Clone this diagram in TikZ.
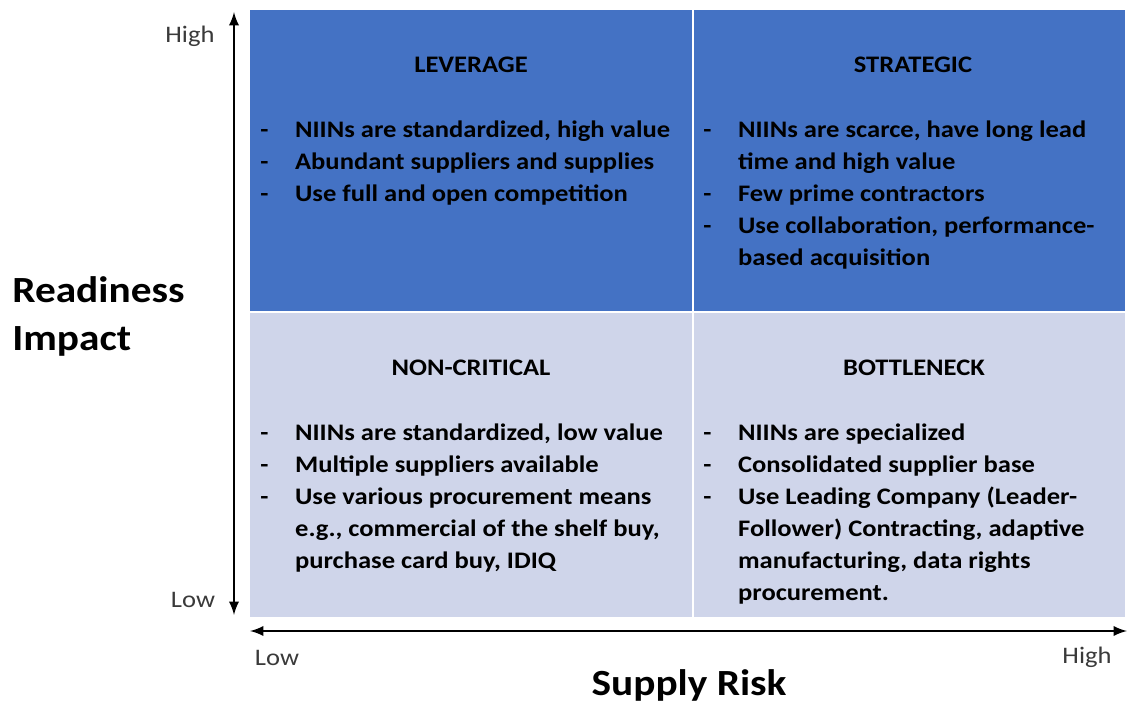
\documentclass[tikz,border=0pt]{standalone}
\usepackage{fontspec}
\setmainfont{Carlito}[FakeStretch=1.12]
\usepackage{tikz}
\usepackage{array}
\definecolor{darkquad}{HTML}{4472C4}
\definecolor{lightquad}{HTML}{CFD5EA}
\definecolor{axisgray}{HTML}{3A3A3A}
\tikzstyle{quad} = [rectangle, anchor=north west, inner sep=0pt]
\tikzstyle{title} = [anchor=base, font=\bfseries\fontsize{13.5}{16}\selectfont]
\tikzstyle{items} = [anchor=base west, inner sep=0pt, font=\bfseries\fontsize{13.5}{18.1}\selectfont]
\tikzstyle{tick} = [text=axisgray, font=\fontsize{13.5}{16}\selectfont]
\tikzstyle{axis} = [font=\bfseries\fontsize{21}{27.2}\selectfont]
\newenvironment{dashlist}{\begin{tabular}[t]{@{}p{19.8pt}@{}l@{}}}{\end{tabular}}

\begin{document}
\begin{tikzpicture}[x=0.02cm, y=-0.02cm]
\useasboundingbox (0,0) rectangle (1127,702);

\node[quad, fill=darkquad, minimum width=8.84cm, minimum height=6.02cm] (lev) at (250, 10) {};
\node[quad, fill=darkquad, minimum width=8.62cm, minimum height=6.02cm] (strat) at (694, 10) {};
\node[quad, fill=lightquad, minimum width=8.84cm, minimum height=6.08cm] (noncrit) at (250, 313) {};
\node[quad, fill=lightquad, minimum width=8.62cm, minimum height=6.08cm] (bottle) at (694, 313) {};

\node[title] (levtitle) at (471, 73) {LEVERAGE};
\node[title] (strattitle) at (913, 73) {STRATEGIC};
\node[title] (noncrittitle) at (471, 376) {NON-CRITICAL};
\node[title] (bottletitle) at (914, 376) {BOTTLENECK};

\node[items] (levlist) at (260, 138) {\begin{dashlist}
- & NIINs are standardized, high value \\
- & Abundant suppliers and supplies \\
- & Use full and open competition
\end{dashlist}};
\node[items] (stratlist) at (703, 138) {\begin{dashlist}
- & NIINs are scarce, have long lead \\
  & time and high value \\
- & Few prime contractors \\
- & Use collaboration, performance- \\
  & based acquisition
\end{dashlist}};
\node[items] (noncritlist) at (260, 441) {\begin{dashlist}
- & NIINs are standardized, low value \\
- & Multiple suppliers available \\
- & Use various procurement means \\
  & e.g., commercial of the shelf buy, \\
  & purchase card buy, IDIQ
\end{dashlist}};
\node[items] (bottlelist) at (703, 441) {\begin{dashlist}
- & NIINs are specialized \\
- & Consolidated supplier base \\
- & Use Leading Company (Leader- \\
  & Follower) Contracting, adaptive \\
  & manufacturing, data rights \\
  & procurement.
\end{dashlist}};

% axes
\coordinate (ytop) at (234, 12);
\coordinate (ybot) at (234, 615);
\coordinate (xleft) at (250, 631);
\coordinate (xright) at (1127, 631);
\draw [<->, >=latex, line width=1.6pt] (ytop) -- (ybot);
\draw [<->, >=latex, line width=1.6pt] (xleft) -- (xright);

\node[tick] (yhigh) at (190, 36) {High};
\node[tick] (ylow) at (193, 600) {Low};
\node[tick] (xlow) at (277, 658) {Low};
\node[tick] (xhigh) at (1087, 657) {High};

\node[axis, anchor=north west, align=left, inner sep=0pt] (ylabel) at (12, 276) {Readiness\\Impact};
\node[axis] (xlabel) at (689, 685) {Supply Risk};

\end{tikzpicture}
\end{document}
